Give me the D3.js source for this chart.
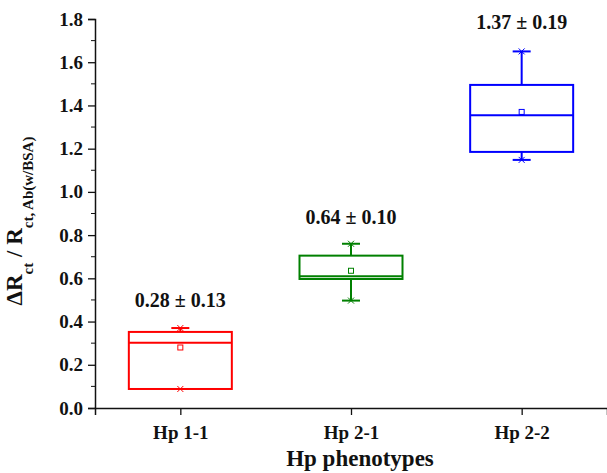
<!DOCTYPE html>
<html>
<head>
  <style type="text/css">
    body { margin: 0; background: #fff; }
    svg { display: block; }
    text { font-family: 'Liberation Serif', 'Times New Roman', serif; font-weight: bold; fill: #111; }
  </style>
</head>
<body>
<svg id="vis" width="607" height="473"></svg>
<script src="https://cdnjs.cloudflare.com/ajax/libs/d3/7.8.5/d3.min.js"></script>
<script type="text/javascript">
  // data
  var categories = ['Hp 1-1', 'Hp 2-1', 'Hp 2-2'];
  var whiskerLow  = [0.088, 0.497, 1.148];
  var q1          = [0.088, 0.597, 1.185];
  var median      = [0.302, 0.610, 1.355];
  var q3          = [0.352, 0.705, 1.495];
  var whiskerHigh = [0.370, 0.760, 1.650];
  var means       = [0.280, 0.635, 1.370];
  var labels      = ['0.28 \u00b1 0.13', '0.64 \u00b1 0.10', '1.37 \u00b1 0.19'];
  var labelY      = [0.468, 0.852, 1.755];
  var colors      = ['#ff0000', '#008000', '#0000ff'];
  var yTicks      = [0, 0.2, 0.4, 0.6, 0.8, 1.0, 1.2, 1.4, 1.6, 1.8];

  var margin = { top: 19, left: 95, right: 0, bottom: 65 },
      width = 607, height = 473;

  var svg = d3.select('#vis');

  var x = d3.scalePoint()
    .domain(categories)
    .range([margin.left, width - margin.right])
    .padding(0.5);
  var y = d3.scaleLinear()
    .domain([0, 1.8])
    .range([height - margin.bottom, margin.top]);

  var boxW = 103, capW = 18;

  // axes
  var yAxis = svg.append('g')
    .attr('transform', 'translate(' + margin.left + ',0)')
    .call(d3.axisLeft(y).tickValues(yTicks).tickFormat(d3.format('.1f')).tickSizeOuter(0).tickSize(7));
  yAxis.selectAll('text').attr('font-size', 19).attr('dx', -2);

  // minor ticks
  yAxis.selectAll('.minor')
    .data(d3.range(0.1, 1.8, 0.2))
    .enter().append('line')
    .attr('class', 'minor')
    .attr('x1', 0).attr('x2', -4)
    .attr('y1', function(d) { return y(d) }).attr('y2', function(d) { return y(d) })
    .attr('stroke', '#111');

  var xAxis = svg.append('g')
    .attr('transform', 'translate(0,' + y(0) + ')')
    .call(d3.axisBottom(x).tickSizeOuter(0).tickSize(7));
  xAxis.selectAll('text').attr('font-size', 19).attr('dy', '1.1em');

  svg.selectAll('.domain').attr('stroke', '#111').attr('stroke-width', 1.5);
  svg.selectAll('.tick line').attr('stroke', '#111').attr('stroke-width', 1.3);
  svg.selectAll('.tick text').attr('fill', '#111');

  // boxes
  var g = svg.selectAll('.box')
    .data(categories)
    .enter().append('g')
    .attr('class', 'box')
    .attr('stroke', function(d, i) { return colors[i] })
    .attr('fill', 'none')
    .attr('stroke-width', 2);

  g.append('line')
    .attr('x1', function(d) { return x(d) }).attr('x2', function(d) { return x(d) })
    .attr('y1', function(d, i) { return y(q3[i]) }).attr('y2', function(d, i) { return y(whiskerHigh[i]) });
  g.append('line')
    .attr('x1', function(d) { return x(d) }).attr('x2', function(d) { return x(d) })
    .attr('y1', function(d, i) { return y(q1[i]) }).attr('y2', function(d, i) { return y(whiskerLow[i]) });

  // caps
  [whiskerHigh, whiskerLow].forEach(function(arr) {
    g.append('line')
      .attr('x1', function(d) { return x(d) - capW / 2 }).attr('x2', function(d) { return x(d) + capW / 2 })
      .attr('y1', function(d, i) { return y(arr[i]) }).attr('y2', function(d, i) { return y(arr[i]) });
    g.append('path')
      .attr('stroke-width', 1)
      .attr('d', function(d, i) {
        var cx = x(d), cy = y(arr[i]);
        return 'M' + (cx - 3) + ',' + (cy - 3) + 'L' + (cx + 3) + ',' + (cy + 3) +
               'M' + (cx - 3) + ',' + (cy + 3) + 'L' + (cx + 3) + ',' + (cy - 3);
      });
  });

  g.append('rect')
    .attr('x', function(d) { return x(d) - boxW / 2 })
    .attr('width', boxW)
    .attr('y', function(d, i) { return y(q3[i]) })
    .attr('height', function(d, i) { return y(q1[i]) - y(q3[i]) });

  g.append('line')
    .attr('x1', function(d) { return x(d) - boxW / 2 }).attr('x2', function(d) { return x(d) + boxW / 2 })
    .attr('y1', function(d, i) { return y(median[i]) }).attr('y2', function(d, i) { return y(median[i]) });

  g.append('rect')
    .attr('stroke-width', 1)
    .attr('x', function(d) { return x(d) - 2.5 })
    .attr('y', function(d, i) { return y(means[i]) - 2.5 })
    .attr('width', 5).attr('height', 5);

  // value labels
  svg.selectAll('.lbl')
    .data(labels)
    .enter().append('text')
    .attr('class', 'lbl')
    .attr('x', function(d, i) { return x(categories[i]) })
    .attr('y', function(d, i) { return y(labelY[i]) })
    .attr('text-anchor', 'middle')
    .attr('font-size', 20)
    .text(function(d) { return d });

  // axis titles
  svg.append('text')
    .attr('x', 360)
    .attr('y', 466)
    .attr('text-anchor', 'middle')
    .attr('font-size', 23)
    .text('Hp phenotypes');

  var yt = svg.append('text')
    .attr('transform', 'translate(22,221) rotate(-90)')
    .attr('text-anchor', 'middle')
    .attr('font-size', 23);
  yt.append('tspan').text('\u0394R');
  yt.append('tspan').attr('font-size', 15).attr('dy', 11).text('ct');
  yt.append('tspan').attr('dy', -11).text(' / R');
  yt.append('tspan').attr('font-size', 15).attr('dy', 11).text('ct, Ab(w/BSA)');
</script>
</body>
</html>
